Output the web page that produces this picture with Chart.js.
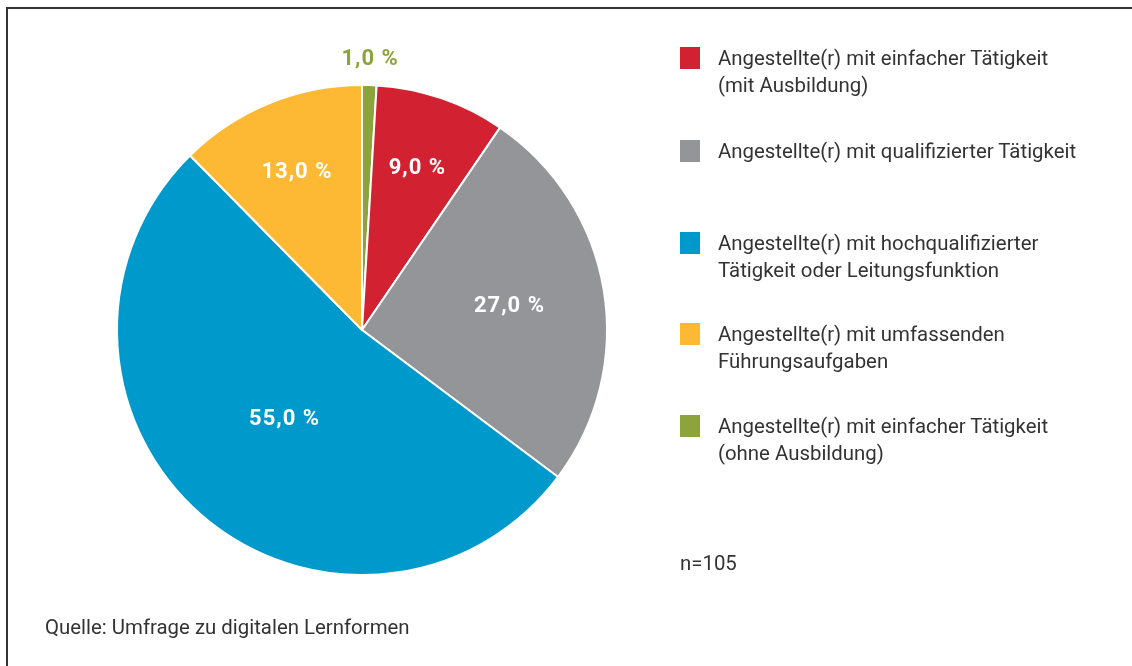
<!DOCTYPE html>
<html>
<head>
<meta charset="utf-8">
<script src="https://cdn.jsdelivr.net/npm/chart.js@4.4.0/dist/chart.umd.min.js"></script>
<style>
  html, body { margin: 0; padding: 0; background: #fff; }
  body { width: 1132px; height: 666px; position: relative; overflow: hidden;
         font-family: "Roboto", sans-serif; color: #333; }
  #frame { position: absolute; left: 6px; top: 7px; width: 1200px; height: 700px;
           border-left: 2px solid #333; border-top: 2px solid #333; }
  #wrap { position: absolute; left: 0; top: 0; width: 1132px; height: 666px; }
  #legend { position: absolute; left: 680px; top: 0; }
  .item { position: absolute; left: 0; white-space: nowrap; font-size: 20.4px; line-height: 27px; }
  .box { position: absolute; left: 0; top: 2px; width: 20px; height: 22px; }
  .txt { position: absolute; left: 38px; top: 0; }
  .note { position: absolute; font-size: 20.4px; }
</style>
</head>
<body>
<div id="frame"></div>
<div id="wrap"><canvas id="pieChart" width="1132" height="666"></canvas></div>
<div id="legend"></div>
<div class="note" style="left:680px; top:551px;">n=105</div>
<div class="note" style="left:45px; top:615px;">Quelle: Umfrage zu digitalen Lernformen</div>
<script>
// slices in drawing order (clockwise from top)
var labels = [
  "Angestellte(r) mit einfacher Tätigkeit (ohne Ausbildung)",
  "Angestellte(r) mit einfacher Tätigkeit (mit Ausbildung)",
  "Angestellte(r) mit qualifizierter Tätigkeit",
  "Angestellte(r) mit hochqualifizierter Tätigkeit oder Leitungsfunktion",
  "Angestellte(r) mit umfassenden Führungsaufgaben"
];
var values = [1, 9, 27, 55, 13];
var valueLabels = ["1,0 %", "9,0 %", "27,0 %", "55,0 %", "13,0 %"];
var colors = ["#8da43c", "#d22232", "#939598", "#0099cc", "#fdb933"];

// legend order and line breaks
var legendOrder = [1, 2, 3, 4, 0];
var legendLines = [
  ["Angestellte(r) mit einfacher Tätigkeit", "(ohne Ausbildung)"],
  ["Angestellte(r) mit einfacher Tätigkeit", "(mit Ausbildung)"],
  ["Angestellte(r) mit qualifizierter Tätigkeit"],
  ["Angestellte(r) mit hochqualifizierter", "Tätigkeit oder Leitungsfunktion"],
  ["Angestellte(r) mit umfassenden", "Führungsaufgaben"]
];

// label placement as share of radius
var labelRadius = [1.11, 0.70, 0.61, 0.48, 0.70];

var legendTops = [45, 138, 230, 321, 413];
var legend = document.getElementById("legend");
legendOrder.forEach(function (idx, i) {
  var item = document.createElement("div");
  item.className = "item";
  item.style.top = legendTops[i] + "px";
  item.innerHTML = '<div class="box" style="background:' + colors[idx] + '"></div>' +
    '<div class="txt">' + legendLines[idx].join("<br>") + '</div>';
  legend.appendChild(item);
});

var sliceLabels = {
  id: "sliceLabels",
  afterDatasetsDraw: function (chart) {
    var ctx = chart.ctx;
    var meta = chart.getDatasetMeta(0);
    ctx.save();
    ctx.font = "bold 22px Roboto, sans-serif";
    ctx.letterSpacing = "1px";
    ctx.textAlign = "center";
    ctx.textBaseline = "middle";
    meta.data.forEach(function (arc, i) {
      var mid = (arc.startAngle + arc.endAngle) / 2;
      var r = arc.outerRadius * labelRadius[i];
      var x = arc.x + Math.cos(mid) * r;
      var y = arc.y + Math.sin(mid) * r;
      ctx.fillStyle = labelRadius[i] > 1 ? colors[i] : "#fff";
      ctx.fillText(valueLabels[i], x, y + 1);
    });
    ctx.restore();
  }
};

var ctx = document.getElementById("pieChart").getContext("2d");
var myPie = new Chart(ctx, {
  type: "pie",
  data: {
    labels: labels,
    datasets: [{
      data: values,
      backgroundColor: colors,
      borderColor: "#fff",
      borderWidth: 2,
      hoverOffset: 0
    }]
  },
  options: {
    responsive: false,
    animation: false,
    layout: { padding: { left: 116, right: 524, top: 84, bottom: 90 } },
    plugins: {
      legend: { display: false },
      tooltip: { enabled: false }
    }
  },
  plugins: [sliceLabels]
});
</script>
</body>
</html>
